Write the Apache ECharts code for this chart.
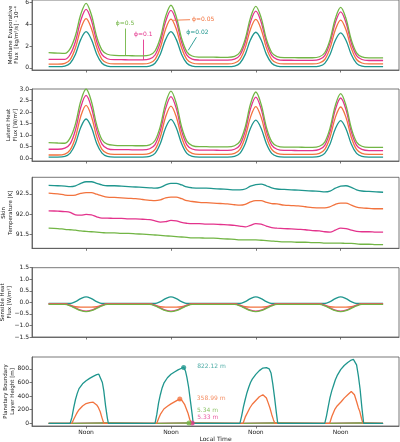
<!DOCTYPE html>
<html>
<head>
<meta charset="utf-8">
<script src="https://cdn.jsdelivr.net/npm/echarts@6/dist/echarts.min.js"></script>
<style>
  html, body { margin: 0; padding: 0; background: #fff; }
  #chart { width: 400px; height: 442px; }
</style>
</head>
<body>
<div id="chart"></div>
<script>
// hours since the first midnight; "Noon" ticks at 12, 36, 60, 84
const hours = [1.4, 4, 6, 7.5, 9, 10.5, 12, 13.5, 15, 16.5, 18, 20, 22,
  24, 26, 28, 30, 31.5, 33, 34.5, 36, 37.5, 39, 40.5, 42, 44, 46,
  48, 50, 52, 54, 55.5, 57, 58.5, 60, 61.5, 63, 64.5, 66, 68, 70,
  72, 74, 76, 78, 79.5, 81, 82.5, 84, 85.5, 87, 88.5, 90, 92, 94, 96];
const noonTicks = [12, 36, 60, 84];

// methane evaporative flux [kg/m2/s] * 1e-4
const fluxTeal = [0.11, 0.11,
  0.16, 0.42, 1.25, 2.60, 3.30, 2.60, 1.25, 0.42, 0.16, 0.10, 0.10, 0.10, 0.10, 0.10,
  0.16, 0.42, 1.25, 2.60, 3.30, 2.60, 1.25, 0.42, 0.16, 0.10, 0.10, 0.10, 0.10, 0.10,
  0.16, 0.42, 1.23, 2.56, 3.25, 2.56, 1.23, 0.42, 0.16, 0.10, 0.10, 0.10, 0.10, 0.10,
  0.16, 0.41, 1.22, 2.52, 3.20, 2.52, 1.22, 0.41, 0.16, 0.10, 0.10, 0.10];
const fluxOrange = [0.33, 0.33,
  0.41, 0.75, 1.83, 3.58, 4.50, 3.59, 1.85, 0.77, 0.44, 0.36, 0.36, 0.36, 0.36, 0.36,
  0.44, 0.77, 1.83, 3.55, 4.45, 3.55, 1.83, 0.77, 0.44, 0.36, 0.36, 0.36, 0.36, 0.36,
  0.44, 0.77, 1.82, 3.53, 4.42, 3.53, 1.82, 0.77, 0.44, 0.36, 0.36, 0.36, 0.36, 0.36,
  0.44, 0.76, 1.80, 3.48, 4.36, 3.48, 1.80, 0.76, 0.44, 0.36, 0.36, 0.36];
const fluxPink = [0.78, 0.77,
  0.78, 1.22, 2.41, 4.34, 5.35, 4.34, 2.40, 1.20, 0.83, 0.74, 0.74, 0.73, 0.73, 0.72,
  0.81, 1.17, 2.35, 4.25, 5.25, 4.25, 2.34, 1.16, 0.80, 0.71, 0.70, 0.70, 0.70, 0.70,
  0.79, 1.15, 2.31, 4.19, 5.18, 4.19, 2.31, 1.14, 0.78, 0.69, 0.69, 0.68, 0.68, 0.68,
  0.77, 1.12, 2.28, 4.14, 5.12, 4.14, 2.27, 1.12, 0.76, 0.67, 0.67, 0.67];
const fluxGreen = [1.38, 1.34,
  1.32, 1.76, 2.96, 4.89, 5.90, 4.85, 2.85, 1.62, 1.24, 1.13, 1.12, 1.11, 1.10, 1.09,
  1.17, 1.54, 2.75, 4.70, 5.72, 4.68, 2.69, 1.46, 1.08, 0.98, 0.97, 0.97, 0.96, 0.96,
  1.04, 1.42, 2.63, 4.59, 5.62, 4.59, 2.62, 1.40, 1.02, 0.93, 0.93, 0.92, 0.92, 0.92,
  1.01, 1.38, 2.58, 4.51, 5.52, 4.51, 2.57, 1.37, 1.00, 0.91, 0.91, 0.91];

// latent heat flux [W/m2]
const latentTeal = [0.05, 0.05,
  0.08, 0.22, 0.64, 1.34, 1.70, 1.34, 0.64, 0.22, 0.08, 0.05, 0.05, 0.05, 0.05, 0.05,
  0.08, 0.21, 0.64, 1.32, 1.68, 1.32, 0.64, 0.21, 0.08, 0.05, 0.05, 0.05, 0.05, 0.05,
  0.08, 0.21, 0.63, 1.30, 1.65, 1.30, 0.63, 0.21, 0.08, 0.05, 0.05, 0.05, 0.05, 0.05,
  0.08, 0.21, 0.62, 1.28, 1.63, 1.28, 0.62, 0.21, 0.08, 0.05, 0.05, 0.05];
const latentOrange = [0.14, 0.14,
  0.18, 0.36, 0.91, 1.82, 2.29, 1.82, 0.93, 0.38, 0.21, 0.17, 0.17, 0.17, 0.17, 0.17,
  0.21, 0.38, 0.92, 1.80, 2.26, 1.80, 0.92, 0.38, 0.21, 0.17, 0.17, 0.17, 0.17, 0.17,
  0.21, 0.38, 0.92, 1.78, 2.24, 1.78, 0.92, 0.38, 0.21, 0.17, 0.17, 0.17, 0.17, 0.17,
  0.21, 0.38, 0.91, 1.77, 2.22, 1.77, 0.91, 0.38, 0.21, 0.17, 0.17, 0.17];
const latentPink = [0.39, 0.39,
  0.44, 0.62, 1.23, 2.21, 2.72, 2.20, 1.22, 0.61, 0.42, 0.37, 0.37, 0.37, 0.36, 0.36,
  0.41, 0.59, 1.19, 2.16, 2.67, 2.16, 1.18, 0.58, 0.40, 0.35, 0.35, 0.35, 0.34, 0.34,
  0.39, 0.57, 1.17, 2.14, 2.65, 2.14, 1.17, 0.57, 0.39, 0.34, 0.34, 0.33, 0.33, 0.33,
  0.38, 0.56, 1.15, 2.11, 2.61, 2.11, 1.15, 0.56, 0.38, 0.33, 0.33, 0.33];
const latentGreen = [0.68, 0.66,
  0.65, 0.88, 1.49, 2.48, 3.00, 2.46, 1.44, 0.80, 0.61, 0.56, 0.55, 0.55, 0.54, 0.54,
  0.58, 0.77, 1.39, 2.39, 2.91, 2.38, 1.37, 0.74, 0.55, 0.50, 0.50, 0.49, 0.49, 0.49,
  0.54, 0.73, 1.35, 2.35, 2.87, 2.34, 1.34, 0.72, 0.53, 0.48, 0.48, 0.48, 0.47, 0.47,
  0.52, 0.70, 1.31, 2.29, 2.80, 2.29, 1.31, 0.70, 0.52, 0.47, 0.47, 0.47];

// skin temperature [K]
const skinTeal = [92.71, 92.70, 92.69, 92.68, 92.70, 92.76, 92.80, 92.80, 92.76, 92.72, 92.70, 92.70, 92.69,
  92.68, 92.67, 92.66, 92.65, 92.64, 92.66, 92.72, 92.76, 92.76, 92.72, 92.67, 92.65, 92.64, 92.64,
  92.63, 92.62, 92.61, 92.60, 92.60, 92.62, 92.69, 92.73, 92.74, 92.70, 92.65, 92.62, 92.61, 92.60,
  92.59, 92.58, 92.57, 92.56, 92.55, 92.57, 92.64, 92.69, 92.70, 92.66, 92.60, 92.57, 92.56, 92.55, 92.54];
const skinOrange = [92.52, 92.50, 92.47, 92.46, 92.47, 92.51, 92.53, 92.53, 92.49, 92.45, 92.42, 92.41, 92.40,
  92.39, 92.38, 92.36, 92.34, 92.33, 92.35, 92.40, 92.42, 92.42, 92.38, 92.33, 92.31, 92.29, 92.28,
  92.27, 92.26, 92.25, 92.23, 92.22, 92.24, 92.30, 92.33, 92.33, 92.29, 92.26, 92.25, 92.22, 92.21,
  92.20, 92.18, 92.16, 92.15, 92.15, 92.18, 92.24, 92.27, 92.27, 92.22, 92.17, 92.15, 92.14, 92.13, 92.13];
const skinPink = [92.08, 92.07, 92.06, 92.04, 91.98, 91.97, 91.99, 91.98, 91.93, 91.90, 91.90, 91.89, 91.89,
  91.88, 91.88, 91.87, 91.86, 91.83, 91.80, 91.81, 91.84, 91.83, 91.79, 91.77, 91.76, 91.76, 91.75,
  91.75, 91.74, 91.73, 91.72, 91.70, 91.68, 91.72, 91.76, 91.75, 91.70, 91.66, 91.65, 91.64, 91.63,
  91.62, 91.61, 91.59, 91.58, 91.56, 91.55, 91.60, 91.65, 91.64, 91.60, 91.57, 91.56, 91.56, 91.55, 91.55];
const skinGreen = [91.65, 91.64, 91.62, 91.61, 91.60, 91.58, 91.57, 91.56, 91.55, 91.54, 91.53, 91.53, 91.52,
  91.52, 91.51, 91.50, 91.49, 91.48, 91.47, 91.46, 91.45, 91.44, 91.43, 91.42, 91.41, 91.41, 91.40,
  91.40, 91.39, 91.38, 91.37, 91.36, 91.36, 91.36, 91.36, 91.35, 91.34, 91.33, 91.32, 91.31, 91.31,
  91.30, 91.30, 91.29, 91.29, 91.28, 91.28, 91.28, 91.28, 91.27, 91.27, 91.26, 91.25, 91.25, 91.24, 91.24];

// sensible heat flux [W/m2]
const sensTeal = [-0.05, -0.05,
  -0.05, -0.05, 0.03, 0.16, 0.24, 0.16, 0.03, -0.05, -0.05, -0.05, -0.05, -0.05, -0.05, -0.05,
  -0.05, -0.05, 0.03, 0.16, 0.24, 0.16, 0.03, -0.05, -0.05, -0.05, -0.05, -0.05, -0.05, -0.05,
  -0.05, -0.05, 0.03, 0.16, 0.24, 0.16, 0.03, -0.05, -0.05, -0.05, -0.05, -0.05, -0.05, -0.05,
  -0.05, -0.05, 0.03, 0.16, 0.24, 0.16, 0.03, -0.05, -0.05, -0.05, -0.05, -0.05];
const sensOrange = [-0.06, -0.06,
  -0.06, -0.12, -0.19, -0.21, -0.21, -0.21, -0.19, -0.12, -0.06, -0.06, -0.06, -0.06, -0.06, -0.06,
  -0.06, -0.12, -0.19, -0.21, -0.21, -0.21, -0.19, -0.12, -0.06, -0.06, -0.06, -0.06, -0.06, -0.06,
  -0.06, -0.12, -0.19, -0.21, -0.21, -0.21, -0.19, -0.12, -0.06, -0.06, -0.06, -0.06, -0.06, -0.06,
  -0.06, -0.12, -0.19, -0.21, -0.21, -0.21, -0.19, -0.12, -0.06, -0.06, -0.06, -0.06];
const sensPink = [-0.08, -0.08,
  -0.08, -0.13, -0.24, -0.34, -0.38, -0.34, -0.24, -0.13, -0.08, -0.08, -0.08, -0.08, -0.08, -0.08,
  -0.08, -0.13, -0.24, -0.34, -0.38, -0.34, -0.24, -0.13, -0.08, -0.08, -0.08, -0.08, -0.08, -0.08,
  -0.08, -0.13, -0.24, -0.34, -0.38, -0.34, -0.24, -0.13, -0.08, -0.08, -0.08, -0.08, -0.08, -0.08,
  -0.08, -0.13, -0.24, -0.34, -0.38, -0.34, -0.24, -0.13, -0.08, -0.08, -0.08, -0.08];
const sensGreen = [-0.09, -0.09,
  -0.09, -0.15, -0.26, -0.36, -0.40, -0.36, -0.26, -0.15, -0.09, -0.09, -0.09, -0.09, -0.09, -0.09,
  -0.09, -0.15, -0.26, -0.36, -0.40, -0.36, -0.26, -0.15, -0.09, -0.09, -0.09, -0.09, -0.09, -0.09,
  -0.09, -0.15, -0.26, -0.36, -0.40, -0.36, -0.26, -0.15, -0.09, -0.09, -0.09, -0.09, -0.09, -0.09,
  -0.09, -0.15, -0.26, -0.36, -0.40, -0.36, -0.26, -0.15, -0.09, -0.09, -0.09, -0.09];

// planetary boundary layer height [m], [hour, value]
const pblTeal = [[1.4, 0], [7.5, 0], [8, 90], [8.5, 230], [9, 350], [9.5, 440], [10, 510], [11, 580], [12, 625],
  [13, 660], [14, 690], [15, 715], [15.6, 722], [16.1, 700], [16.6, 600], [17, 480], [17.5, 260], [18, 80], [18.3, 0],
  [31.5, 0], [32, 130], [32.5, 300], [33, 420], [33.5, 520], [34, 590], [35, 670], [36, 720], [37, 755], [38, 785],
  [39, 810], [39.6, 822], [40.1, 770], [40.5, 680], [41, 530], [41.5, 330], [42, 130], [42.3, 0],
  [55.5, 0], [56, 110], [56.5, 240], [57, 350], [57.5, 450], [58, 530], [58.5, 600], [59, 650], [60, 720], [61, 775],
  [62, 812], [63, 818], [63.8, 800], [64.3, 740], [64.8, 580], [65.3, 380], [65.8, 160], [66.2, 0],
  [79.5, 0], [80, 110], [80.5, 250], [81, 380], [81.5, 480], [82, 560], [82.5, 640], [83, 700], [84, 790], [85, 850],
  [86, 895], [87, 930], [87.6, 940], [88.1, 920], [88.5, 860], [89, 700], [89.5, 500], [90, 230], [90.5, 0], [96, 0]];
const pblOrange = [[1.4, 0], [8, 0], [8.5, 60], [9, 110], [9.5, 160], [10, 200], [11, 255], [12, 290], [13, 305],
  [14, 310], [14.5, 300], [15, 270], [15.5, 230], [16, 170], [16.5, 80], [17, 0],
  [32, 0], [32.5, 70], [33, 130], [34, 210], [35, 250], [36, 285], [37, 315], [38, 345], [38.5, 359], [39, 345],
  [39.9, 273], [40.8, 152], [41.3, 60], [41.8, 0],
  [56.4, 0], [57, 90], [58.3, 225], [59, 280], [60.2, 346], [61, 390], [62, 419], [62.5, 410], [63, 371], [63.5, 300],
  [64, 225], [64.5, 130], [65, 50], [65.4, 0],
  [80.9, 0], [81.5, 100], [82.3, 200], [83, 255], [84.2, 321], [85, 370], [86, 419], [87, 467], [87.5, 455],
  [87.9, 419], [88.5, 320], [89, 230], [89.4, 175], [89.9, 70], [90.3, 0], [96, 0]];
const pblPink = [[1.4, 0], [7.5, 0], [8, 5.3], [17.5, 5.3], [18, 0], [31.5, 0], [32, 5.3], [42.0, 5.33], [42.3, 0],
  [55.5, 0], [56, 5.3], [65.5, 5.3], [66, 0], [79.5, 0], [80, 5.3], [89.5, 5.3], [90, 0], [96, 0]];
const pblGreen = [[1.4, 0], [7.5, 0], [8, 5.3], [17.5, 5.3], [18, 0], [31.5, 0], [32, 5.3], [41.1, 5.34], [41.5, 0],
  [55.5, 0], [56, 5.3], [65.5, 5.3], [66, 0], [79.5, 0], [80, 5.3], [89.5, 5.3], [90, 0], [96, 0]];

// marked points on day two: teal, orange, pink, green
const markHours = [39.6, 38.5, 42.0, 41.1];
const markValues = [822.12, 358.99, 5.33, 5.34];

const phiNames = ['ϕ=0.02', 'ϕ=0.05', 'ϕ=0.1', 'ϕ=0.5'];

const fluxTicks = [0, 2, 4, 6];
const latentTicks = [0, 0.5, 1, 1.5, 2, 2.5, 3];
const skinTicks = [91.5, 92, 92.5];
const sensTicks = [-1.5, -1, -0.5, 0, 0.5, 1, 1.5];
const pblTicks = [0, 200, 400, 600, 800];

const C = { teal: '#1f968e', orange: '#f2733e', pink: '#e3338c', green: '#72b545' };
const FONT = 'DejaVu Sans';
const axisColor = '#555';

const grids = [
  { top: 0, height: 70 },
  { top: 89, height: 72 },
  { top: 177.3, height: 71 },
  { top: 267.7, height: 69.3 },
  { top: 357, height: 69 }
].map(g => ({
  ...g, left: 32, right: 1, containLabel: false, outerBoundsMode: 'none',
  show: true, borderColor: axisColor, borderWidth: 0.8
}));

const xAxes = grids.map((g, i) => ({
  type: 'value', gridIndex: i, min: -3.3, max: 100.5,
  splitLine: { show: false },
  axisLine: { show: true, onZero: false, lineStyle: { color: axisColor, width: 0.8 } },
  axisTick: { show: true, customValues: noonTicks, length: 2.5, lineStyle: { color: axisColor, width: 0.8 } },
  axisLabel: {
    show: i === 4, customValues: noonTicks, formatter: () => 'Noon',
    fontFamily: FONT, fontSize: 6, color: '#222', margin: 3.5
  },
  name: i === 4 ? 'Local Time' : '', nameLocation: 'middle', nameGap: 10.5, nameMoveOverlap: false,
  nameTextStyle: { fontFamily: FONT, fontSize: 6, color: '#222' }
}));

function yAxis(i, min, max, ticks, name, gap, fmt) {
  return {
    type: 'value', gridIndex: i, min, max,
    splitLine: { show: false },
    axisLine: { show: true, onZero: false, lineStyle: { color: axisColor, width: 0.8 } },
    axisTick: { show: true, customValues: ticks, length: 2.5, lineStyle: { color: axisColor, width: 0.8 } },
    axisLabel: {
      customValues: ticks, formatter: fmt, fontFamily: FONT, fontSize: 6, color: '#222', margin: 3
    },
    name, nameLocation: 'middle', nameRotate: 90, nameGap: gap, nameMoveOverlap: false,
    nameTextStyle: { fontFamily: FONT, fontSize: 5.5, color: '#222', lineHeight: 6.5 }
  };
}
const minus = s => s.replace('-', '\u2212');
const yAxes = [
  yAxis(0, -0.2, 6.2, fluxTicks, 'Methane Evaporative\nFlux  [kg/m\u00b2/s] \u00b7 10\u207b\u2074', 12, v => String(v)),
  yAxis(1, -0.12, 3.0, latentTicks, 'Latent Heat\nFlux [W/m\u00b2]', 13.5, v => v.toFixed(1)),
  yAxis(2, 91.15, 92.91, skinTicks, 'Skin\nTemperature [K]', 18.5, v => v.toFixed(1)),
  yAxis(3, -1.5, 1.5, sensTicks, 'Sensible Heat\nFlux [W/m\u00b2]', 19.5, v => minus(v.toFixed(1))),
  yAxis(4, -40, 975, pblTicks, 'Planetary Boundary\nLayer Height [m]', 16.5, v => String(v))
];

function line(i, vals, color, z) {
  return {
    type: 'line', xAxisIndex: i, yAxisIndex: i, z,
    data: hours.map((h, k) => [h, vals[k]]),
    smooth: 0.35, showSymbol: false, silent: true,
    lineStyle: { color, width: 1.3 }
  };
}
function leader(from, to, text, color) {
  return {
    silent: true, symbol: 'none', animation: false,
    lineStyle: { color, width: 0.9, type: 'solid' },
    label: { show: true, position: 'end', formatter: text, color, fontFamily: FONT, fontSize: 6, distance: 2 },
    data: [[{ coord: from }, { coord: to }]]
  };
}

const series = [];
const panels = [
  [fluxTeal, fluxOrange, fluxPink, fluxGreen],
  [latentTeal, latentOrange, latentPink, latentGreen],
  [skinTeal, skinOrange, skinPink, skinGreen],
  [sensTeal, sensOrange, sensPink, sensGreen]
];
const order = [C.teal, C.orange, C.pink, C.green];
panels.forEach((set, i) => set.forEach((vals, k) => series.push(line(i, vals, order[k], 2 + k))));

// leader lines with the phi labels on the top panel
series[0].markLine = leader([40.9, 1.6], [43.2, 2.8], phiNames[0], C.teal);
series[1].markLine = leader([36.6, 4.35], [41.4, 4.4], phiNames[1], C.orange);
series[2].markLine = leader([28.2, 0.72], [28.2, 2.58], phiNames[2], C.pink);
series[3].markLine = leader([23.0, 1.13], [23.0, 3.59], phiNames[3], C.green);

// boundary layer panel: pink, green, orange, teal (teal drawn last)
[[pblPink, C.pink], [pblGreen, C.green], [pblOrange, C.orange], [pblTeal, C.teal]].forEach(([d, c], k) => {
  series.push({
    type: 'line', xAxisIndex: 4, yAxisIndex: 4, z: 2 + k, data: d,
    smooth: false, showSymbol: false, silent: true, lineStyle: { color: c, width: 1.3 }
  });
});

const markColors = [C.teal, C.orange, C.pink, C.green];
const labelOffsets = [[11, -1.4], [14.5, -0.8], [2.5, -5.6], [5.5, -12.3]];
series.push({
  type: 'scatter', xAxisIndex: 4, yAxisIndex: 4, z: 10, symbolSize: 5, silent: true,
  data: markHours.map((h, k) => ({
    value: [h, markValues[k]],
    itemStyle: { color: markColors[k] },
    label: {
      show: true, position: 'right', distance: labelOffsets[k][0], offset: [0, labelOffsets[k][1]],
      formatter: markValues[k].toFixed(2) + ' m', color: markColors[k], fontFamily: FONT, fontSize: 6
    }
  }))
});

const chart = echarts.init(document.getElementById('chart'), null, { renderer: 'canvas' });
chart.setOption({
  animation: false,
  backgroundColor: '#fff',
  textStyle: { fontFamily: FONT },
  grid: grids,
  xAxis: xAxes,
  yAxis: yAxes,
  series
});
</script>
</body>
</html>
